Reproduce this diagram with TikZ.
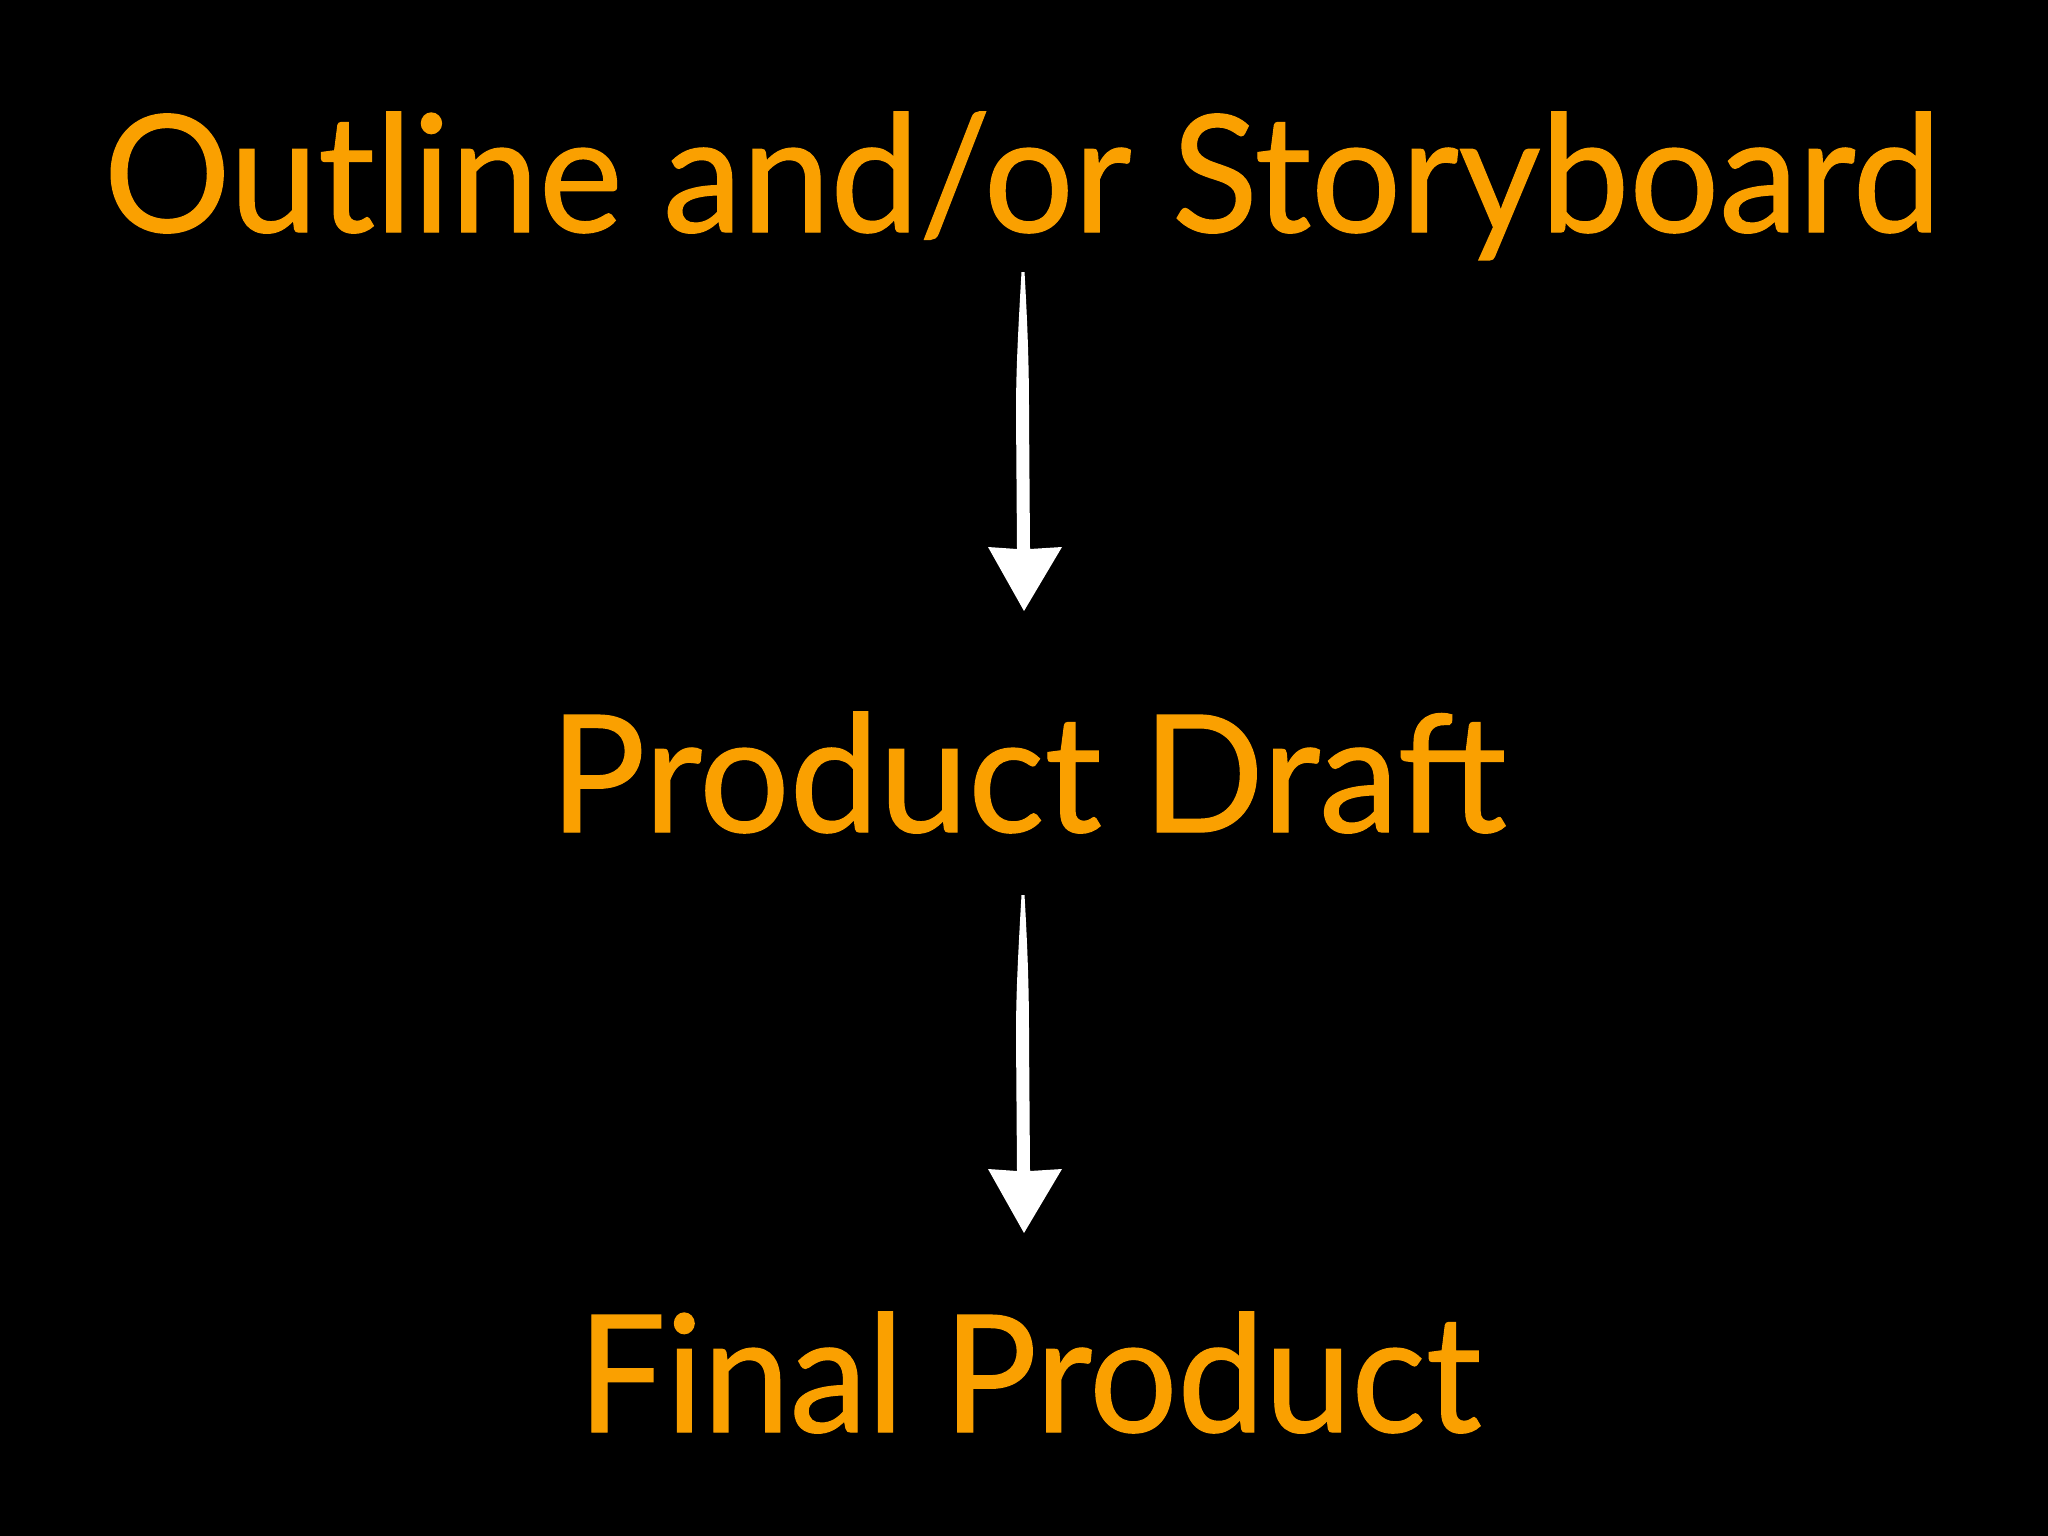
\documentclass[tikz,border=0pt]{standalone}
\usepackage{fontspec}
\setmainfont{Lato}[FakeBold=0.8]
\usepackage{graphicx}
\usetikzlibrary{calc}
\definecolor{slideorange}{RGB}{250,160,0}
\tikzset{
  x=0.01cm, y=-0.01cm,
  slidetext/.style={text=slideorange, inner sep=0pt, anchor=base west, font=\fontsize{46.4}{50}\selectfont},
  arrowbody/.style={fill=white, draw=none}
}
\newcommand\fitto[2]{\resizebox{#1}{\height}{#2}}
\begin{document}
\begin{tikzpicture}
\fill[black] (0,0) rectangle (2048,1536);
\useasboundingbox (0,0) rectangle (2048,1536);
\node[slidetext] (outline) at (103,232) {\fitto{18.36cm}{Outline and/or Storyboard}};
\node[slidetext] (draft) at (549,832) {\fitto{9.56cm}{Product Draft}};
\node[slidetext] (final) at (577,1432) {\fitto{9.03cm}{Final Product}};
\coordinate (a1s) at (1023,272);
\coordinate (a1e) at (1024,611);
\coordinate (a2s) at (1023,895);
\coordinate (a2e) at (1024,1233);
\foreach \s/\e in {a1s/a1e, a2s/a2e}{
  \fill[arrowbody] ($(\s)+(-1.5,0)$) -- ($(\s)+(1.5,0)$)
     .. controls ($(\s)+(5,60)$) and ($(\s)+(6,100)$) .. ($(\s)+(6,140)$)
     -- ($(\e)+(6,-62)$) -- ($(\e)+(38,-64)$) -- (\e) -- ($(\e)+(-36,-64)$) -- ($(\e)+(-7,-62)$)
     -- ($(\s)+(-7,140)$) .. controls ($(\s)+(-7,100)$) and ($(\s)+(-5,60)$) .. ($(\s)+(-1.5,0)$) -- cycle;
}
\end{tikzpicture}
\end{document}
